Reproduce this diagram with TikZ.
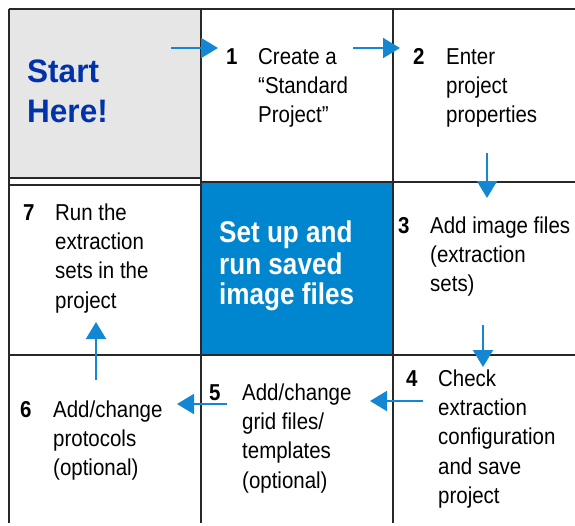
\documentclass[tikz,border=0pt]{standalone}
\usepackage{fontspec}
\setmainfont{Liberation Sans}[FakeStretch=0.89]
\newfontfamily\headfont{Liberation Sans}[FakeStretch=0.97]
\newfontfamily\boxfont{Liberation Sans}[FakeStretch=0.87]
\usetikzlibrary{arrows.meta}
\definecolor{arrowblue}{RGB}{20,135,212}
\definecolor{boxblue}{RGB}{0,133,207}
\definecolor{startblue}{RGB}{0,51,170}
\definecolor{cellgray}{RGB}{230,230,230}
\definecolor{gridline}{RGB}{40,40,40}
\tikzset{
  gridl/.style={draw=gridline, line width=1.1pt},
  flowarrow/.style={draw=arrowblue, line width=2pt, -{Triangle[length=17pt,width=20pt]}},
  stepnum/.style={anchor=base west, inner sep=0pt, font=\fontsize{23}{29.3}\selectfont\bfseries},
  steptext/.style={anchor=north west, inner sep=0pt, align=left, font=\fontsize{23}{29.3}\selectfont},
}
\begin{document}
\begin{tikzpicture}[x=1pt,y=-1pt]
\useasboundingbox (0,0) rectangle (575,525);
% fills
\fill[cellgray] (9,9) rectangle (201,178);
\fill[boxblue] (201,182) rectangle (393,355);
% grid lines
\draw[gridl] (9,9) -- (575,9);
\draw[gridl] (9,9) -- (9,523);
\draw[gridl] (201,9) -- (201,523);
\draw[gridl] (393,9) -- (393,523);
\draw[gridl] (201,182) -- (575,182);
\draw[gridl] (9,178) -- (201,178);
\draw[gridl] (9,185) -- (201,185);
\draw[gridl] (9,355) -- (575,355);
% start here
\node[anchor=north west, inner sep=0pt, align=left, text=startblue,
  font=\headfont\bfseries\fontsize{32.5}{40}\selectfont] (start) at (27,54) {\strut Start\\Here!};
% center box text
\node[anchor=north west, inner sep=0pt, align=left, text=white,
  font=\boxfont\bfseries\fontsize{30}{30.5}\selectfont] (center) at (219,220.65) {\strut Set up and\\run saved\\image files};
% step numbers
\node[stepnum] (n1) at (226,64) {1};
\node[stepnum] (n2) at (413,64) {2};
\node[stepnum] (n3) at (398,233) {3};
\node[stepnum] (n4) at (406,386) {4};
\node[stepnum] (n5) at (209,400) {5};
\node[stepnum] (n6) at (20,417) {6};
\node[stepnum] (n7) at (23,220) {7};
% step texts (top = baseline - 0.7*29.3)
\node[steptext] (t1) at (258,43.49) {\strut Create a\\“Standard\\Project”};
\node[steptext] (t2) at (446,43.49) {\strut Enter\\project\\properties};
\node[steptext] (t3) at (430,212.49) {\strut Add image files\\(extraction\\sets)};
\node[steptext] (t4) at (438,365.49) {\strut Check\\extraction\\configuration\\and save\\project};
\node[steptext] (t5) at (242,379.49) {\strut Add/change\\grid files/\\templates\\(optional)};
\node[steptext] (t6) at (53,396.49) {\strut Add/change\\protocols\\(optional)};
\node[steptext] (t7) at (55,199.49) {\strut Run the\\extraction\\sets in the\\project};
% arrow end points
\coordinate (a1s) at (171,48); \coordinate (a1e) at (218,48);
\coordinate (a2s) at (353,48); \coordinate (a2e) at (400,48);
\coordinate (a3s) at (487,153); \coordinate (a3e) at (487,198);
\coordinate (a4s) at (483,325); \coordinate (a4e) at (483,367);
\coordinate (a5s) at (423,401); \coordinate (a5e) at (370,401);
\coordinate (a6s) at (227,404); \coordinate (a6e) at (177,404);
\coordinate (a7s) at (96,380); \coordinate (a7e) at (96,322);
\draw[flowarrow] (a1s) -- (a1e);
\draw[flowarrow] (a2s) -- (a2e);
\draw[flowarrow] (a3s) -- (a3e);
\draw[flowarrow] (a4s) -- (a4e);
\draw[flowarrow] (a5s) -- (a5e);
\draw[flowarrow] (a6s) -- (a6e);
\draw[flowarrow] (a7s) -- (a7e);
\end{tikzpicture}
\end{document}
